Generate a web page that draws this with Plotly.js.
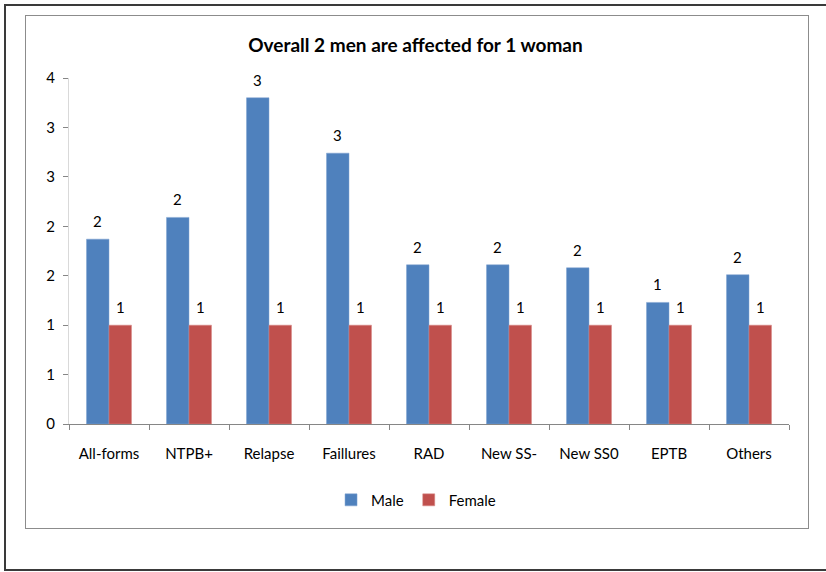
<!DOCTYPE html>
<html>
<head>
<meta charset="utf-8">
<script src="https://cdn.plot.ly/plotly-3.0.1.min.js"></script>
<style>
  html, body { margin: 0; padding: 0; background: #ffffff; }
  #wrap { position: relative; width: 826px; height: 572px; overflow: hidden; background: #ffffff; }
  #chart { position: absolute; left: 0; top: 0; width: 826px; height: 572px; }
  .outer { position: absolute; left: 4px; top: 4px; width: 840px; height: 563px; border: 2px solid #3a3a3a; pointer-events: none; }
  .inner { position: absolute; left: 25px; top: 15px; width: 782px; height: 512px; border: 1px solid #8c8c8c; pointer-events: none; }
</style>
</head>
<body>
<div id="wrap">
  <div id="chart"></div>
  <div class="outer"></div>
  <div class="inner"></div>
</div>
<script>
const categories = ["All-forms", "NTPB+", "Relapse", "Faillures", "RAD", "New SS-", "New SS0", "EPTB", "Others"];
const maleValues = [1.87, 2.09, 3.30, 2.74, 1.61, 1.61, 1.58, 1.23, 1.51];
const femaleValues = [1, 1, 1, 1, 1, 1, 1, 1, 1];
const yTickVals = [0, 0.5, 1, 1.5, 2, 2.5, 3, 3.5];
const yTickText = ["0", "1", "1", "2", "2", "3", "3", "4"];
const titleText = "Overall 2 men are affected for 1 woman";

const FONT = "Lato, 'Open Sans', sans-serif";
const roundLabel = v => String(Math.round(v));

const traces = [
  { type: "bar", name: "Male", x: categories, y: maleValues,
    marker: { color: "#4F81BD", line: { color: "#7fa3d1", width: 0.5 } }, hoverinfo: "x+y" },
  { type: "bar", name: "Female", x: categories, y: femaleValues,
    marker: { color: "#C0504D", line: { color: "#d88886", width: 0.5 } }, hoverinfo: "x+y" }
];

const annotations = [];
categories.forEach((c, i) => {
  annotations.push({ x: c, y: maleValues[i], xref: "x", yref: "y", text: roundLabel(maleValues[i]),
    showarrow: false, xshift: -11.5, yanchor: "bottom", yshift: 7, font: { family: FONT, size: 15, color: "#000" } });
  annotations.push({ x: c, y: femaleValues[i], xref: "x", yref: "y", text: roundLabel(femaleValues[i]),
    showarrow: false, xshift: 11.5, yanchor: "bottom", yshift: 7, font: { family: FONT, size: 15, color: "#000" } });
});

const layout = {
  width: 826, height: 572,
  margin: { l: 69, r: 37, t: 78, b: 148 },
  paper_bgcolor: "rgba(0,0,0,0)", plot_bgcolor: "#ffffff",
  font: { family: FONT, size: 15, color: "#000" },
  title: { text: "<b>" + titleText + "</b>", x: 0.503, xanchor: "center", y: 0.921, yanchor: "middle",
    font: { family: FONT, size: 19, color: "#000" } },
  showlegend: true,
  legend: { orientation: "h", x: 0.482, xanchor: "center", y: -0.22, yanchor: "middle",
    font: { family: FONT, size: 15, color: "#000" }, itemwidth: 30, traceorder: "normal" },
  bargap: 0.4375, bargroupgap: 0,
  barmode: "group",
  xaxis: { type: "category", showgrid: false, zeroline: false, showline: true, linecolor: "#868686", linewidth: 1,
    ticks: "outside", tickson: "boundaries", ticklen: 5, tickcolor: "#868686",
    ticklabelstandoff: 16, tickfont: { family: FONT, size: 15, color: "#000" } },
  yaxis: { range: [0, 3.5], showgrid: false, zeroline: false, showline: true, linecolor: "#d9d9d9", linewidth: 1,
    ticks: "outside", ticklen: 5, tickcolor: "#868686", tickvals: yTickVals, ticktext: yTickText,
    ticklabelstandoff: 5, tickfont: { family: FONT, size: 15, color: "#000" } },
  annotations: annotations
};

Plotly.newPlot("chart", traces, layout, { displayModeBar: false, staticPlot: true });
</script>
</body>
</html>
